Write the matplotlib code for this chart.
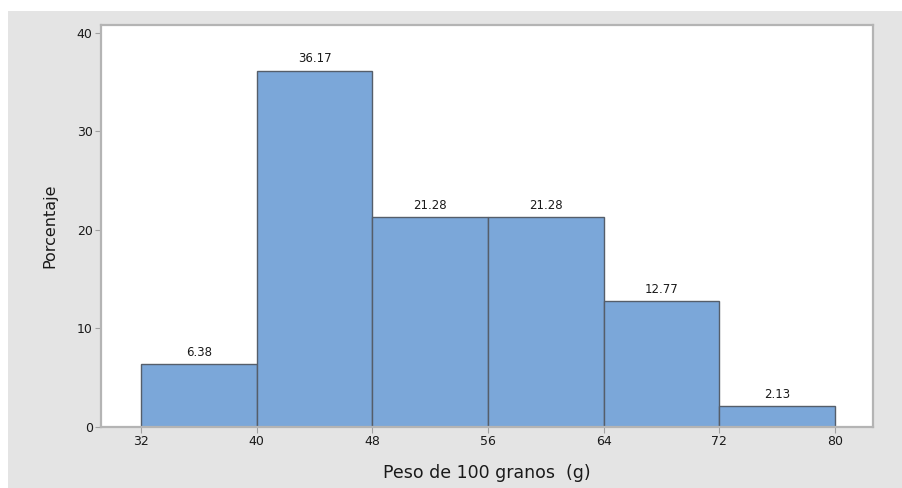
import matplotlib
matplotlib.use("Agg")
import matplotlib.pyplot as plt
from matplotlib.patches import Rectangle

bin_edges = [32, 40, 48, 56, 64, 72, 80]
percentages = [6.38, 36.17, 21.28, 21.28, 12.77, 2.13]
x_ticks = [32, 40, 48, 56, 64, 72, 80]
y_ticks = [0, 10, 20, 30, 40]

plt.rcParams['font.family'] = ['DejaVu Sans']

W, H = 903, 488
fig = plt.figure(figsize=(W/100, H/100), dpi=100, facecolor='white')
bg = Rectangle((8/W, 0), 1 - 8/W, (H-11)/H, transform=fig.transFigure,
               facecolor='#e4e4e4', edgecolor='none', zorder=-10)
fig.patches.append(bg)

ax = fig.add_axes([101/W, (H-427)/H, (873-101)/W, (427-25)/H])
ax.set_zorder(1)
ax.set_facecolor('white')

lefts = bin_edges[:-1]
widths = [b - a for a, b in zip(bin_edges[:-1], bin_edges[1:])]
ax.bar(lefts, percentages, width=widths, align='edge', color='#7ba7d9',
       edgecolor='#555e6a', linewidth=1.0)
for l, w, p in zip(lefts, widths, percentages):
    ax.text(l + w/2, p + 0.55, f"{p:.2f}", ha='center', va='bottom', fontsize=8.5, color='#1a1a1a')

ax.set_xlim(29.23, 82.63)
ax.set_ylim(0, 40.8)
ax.set_xticks(x_ticks)
ax.set_yticks(y_ticks)
ax.tick_params(axis='both', direction='out', length=4, color='#a0a0a0', labelsize=9, labelcolor='#1a1a1a', pad=2)
for s in ax.spines.values():
    s.set_color('#b4b4b4')
    s.set_linewidth(1.6)

ax.set_xlabel('Peso de 100 granos  (g)', fontsize=12.5, color='#1a1a1a', labelpad=11)
ax.set_ylabel('Porcentaje', fontsize=11.5, color='#1a1a1a', labelpad=14)

fig.savefig('out.png', dpi=100, facecolor=fig.get_facecolor())
